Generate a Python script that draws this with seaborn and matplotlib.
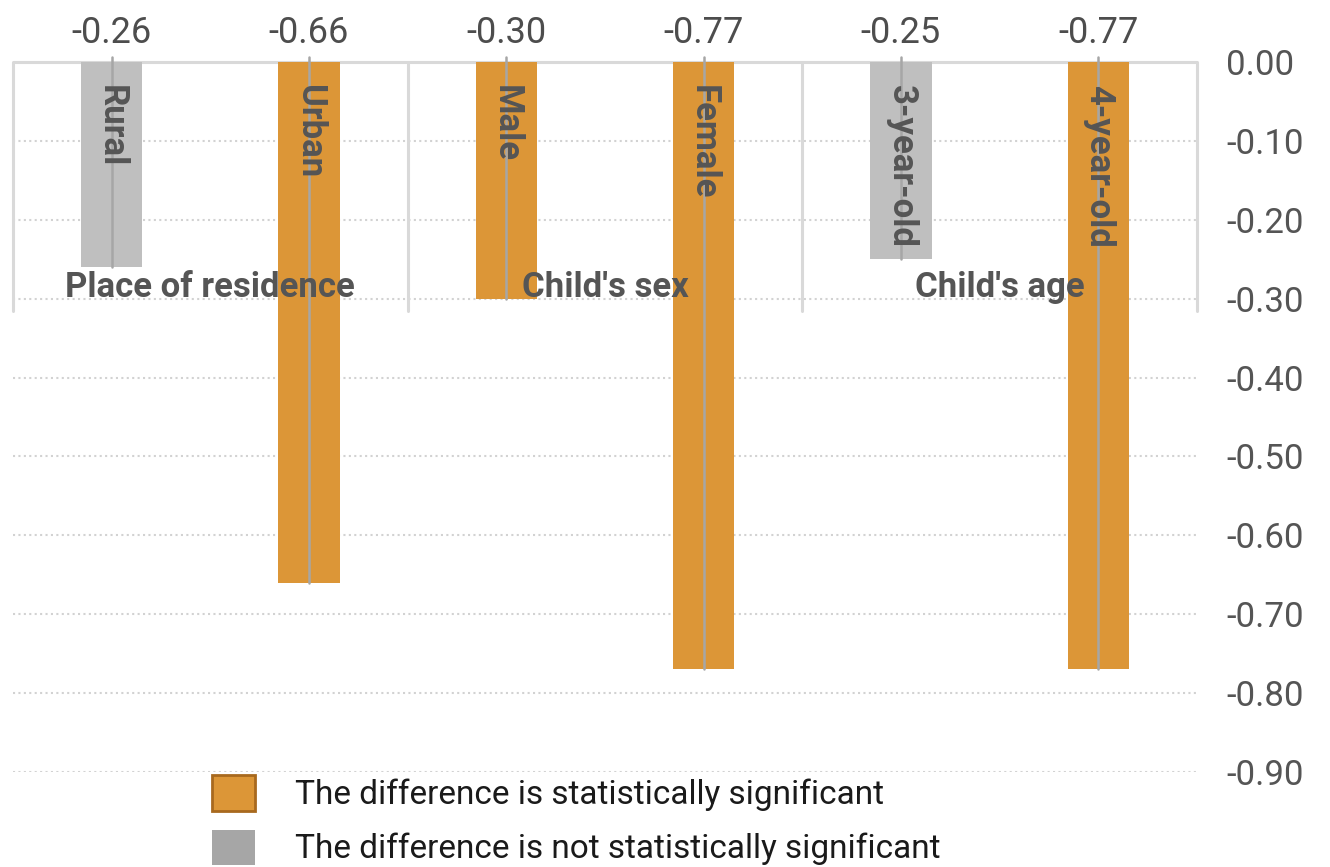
import matplotlib
matplotlib.use("Agg")
import matplotlib.pyplot as plt
from matplotlib import font_manager
from matplotlib.patches import Patch
import seaborn as sns
import pandas as pd

# Data
categories = ["Rural", "Urban", "Male", "Female", "3-year-old", "4-year-old"]
values = [-0.26, -0.66, -0.30, -0.77, -0.25, -0.77]
significant = [False, True, True, True, False, True]
groups = ["Place of residence", "Child's sex", "Child's age"]
yticks = [0.0, -0.1, -0.2, -0.3, -0.4, -0.5, -0.6, -0.7, -0.8, -0.9]
legend_labels = ["The difference is statistically significant",
                 "The difference is not statistically significant"]

ORANGE = "#DC9637"
GREY = "#BFBFBF"
TEXT = "#555555"

sns.set_style("white")
available = {f.name for f in font_manager.fontManager.ttflist}
main_font = "Roboto" if "Roboto" in available else "DejaVu Sans"
plt.rcParams["font.family"] = [main_font, "DejaVu Sans"]

df = pd.DataFrame({
    "category": categories,
    "value": values,
    "status": ["sig" if s else "ns" for s in significant],
})

fig = plt.figure(figsize=(13.3, 8.67), dpi=100)
ax = fig.add_axes([13 / 1330, 1 - 772 / 867, (1197 - 13) / 1330, (772 - 62) / 867])

sns.barplot(data=df, x="category", y="value", hue="status",
            palette={"sig": ORANGE, "ns": GREY}, dodge=False, width=0.31,
            saturation=1, linewidth=0, legend=False, ax=ax, zorder=2)

ax.set_xlim(-0.5, len(categories) - 0.5)
ax.set_ylim(-0.9, 0)
for s in ax.spines.values():
    s.set_visible(False)

# dotted horizontal gridlines
ax.set_axisbelow(True)
ax.yaxis.grid(True, linestyle=(0, (1, 1.6)), color="#d2d2d2", linewidth=1.5)
ax.xaxis.grid(False)

# y axis on the right
ax.yaxis.tick_right()
ax.set_yticks(yticks)
ax.set_yticklabels(["0.00" if t == 0 else f"-{abs(t):.2f}" for t in yticks])
ax.tick_params(axis="y", length=0, pad=21, labelsize=25, labelcolor=TEXT)
ax.set_xticks([])
ax.set_xlabel("")
ax.set_ylabel("")

# solid zero line and group separators
ax.plot([-0.5, len(categories) - 0.5], [0, 0], color="#d9d9d9", lw=2.2,
        zorder=1.5, clip_on=False, solid_capstyle="butt")
for xs in [-0.5, 1.5, 3.5, 5.5]:
    ax.plot([xs, xs], [0, -0.315], color="#d9d9d9", lw=2.2, zorder=1.5,
            clip_on=False)

# leader lines, value labels and category labels
for i, (cat, v) in enumerate(zip(categories, values)):
    ax.plot([i, i], [0.006, v], color="#a6a6a6", lw=1.8, zorder=3, clip_on=False)
    ax.text(i, 0.037, f"{v:.2f}", ha="center", va="center", fontsize=26,
            color="#4d4d4d", clip_on=False)
    ax.text(i, -0.029, cat, ha="center", va="top", rotation=270, fontsize=25,
            fontweight="semibold", color=TEXT, zorder=4)

# group labels
for g, name in enumerate(groups):
    ax.text(2 * g + 0.5, -0.286, name, ha="center", va="center", fontsize=25,
            fontweight="bold", color=TEXT, zorder=5)

handles = [Patch(facecolor=ORANGE, edgecolor="#A8691E", linewidth=2),
           Patch(facecolor="#A6A6A6", edgecolor="#A6A6A6", linewidth=0)]
fig.legend(handles, legend_labels, loc="upper left",
           bbox_to_anchor=(209 / 1330, 1 - 772 / 867), frameon=False,
           fontsize=24, handlelength=1.27, handleheight=1.25,
           handletextpad=1.2, labelspacing=0.55, borderpad=0.1,
           borderaxespad=0, labelcolor="#1a1a1a")

fig.savefig("out.png", dpi=100)
